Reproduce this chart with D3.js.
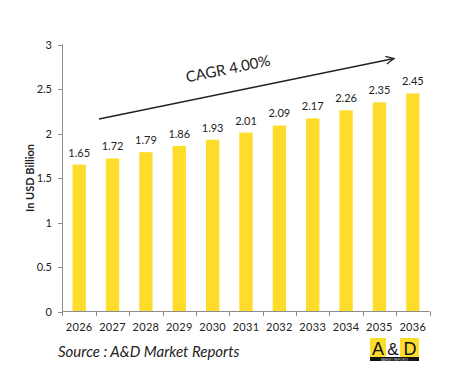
<!DOCTYPE html>
<html><head><meta charset="utf-8">
<script src="https://cdn.jsdelivr.net/npm/d3@7"></script>
<style>body{margin:0;background:#fff}</style>
</head><body>
<svg id="c" width="452" height="382"></svg>
<script>
const years = ["2026","2027","2028","2029","2030","2031","2032","2033","2034","2035","2036"];
const values = [1.65,1.72,1.79,1.86,1.93,2.01,2.09,2.17,2.26,2.35,2.45];
const yTicks = [0,0.5,1,1.5,2,2.5,3];
const yTickLabels = ["0","0.5","1","1.5","2","2.5","3"];
const cagrText = "CAGR 4.00%";
const sourceText = "Source : A&D Market Reports";
const yTitle = "In USD Billion";

const font = "Lato, 'Open Sans', sans-serif";
const svg = d3.select("#c");
const x = d3.scaleBand().domain(years).range([62.5, 429.5]).paddingInner(0.6).paddingOuter(0.3);
const xb = d3.scaleBand().domain(years).range([62.5, 429.5]);
const y = d3.scaleLinear().domain([0,3]).range([311.5, 44.5]);

// bars
svg.selectAll("rect.bar").data(values).enter().append("rect")
  .attr("x",(d,i)=>x(years[i])).attr("width",x.bandwidth())
  .attr("y",d=>y(d)).attr("height",d=>y(0)-y(d)).attr("fill","#FDDC2C");

// y axis
const g = svg.append("g");
g.append("line").attr("x1",62.5).attr("x2",62.5).attr("y1",y(3)).attr("y2",y(0)).attr("stroke","#8c8c8c");
g.selectAll("line.yt").data(yTicks).enter().append("line")
  .attr("x1",58).attr("x2",62.5).attr("y1",d=>Math.round(y(d))+0.5).attr("y2",d=>Math.round(y(d))+0.5).attr("stroke","#8c8c8c");
g.selectAll("text.yl").data(yTicks).enter().append("text")
  .attr("x",52).attr("y",d=>y(d)+4).attr("text-anchor","end")
  .attr("font-family",font).attr("font-size",11).attr("fill","#222")
  .text((d,i)=>yTickLabels[i]);

// x axis
g.append("line").attr("x1",62.5).attr("x2",429.5).attr("y1",y(0)).attr("y2",y(0)).attr("stroke","#8c8c8c");
const bounds = years.map(d=>xb(d)).concat([xb.range()[1]]);
g.selectAll("line.xt").data(bounds).enter().append("line")
  .attr("x1",d=>Math.round(d)+0.5).attr("x2",d=>Math.round(d)+0.5).attr("y1",y(0)).attr("y2",y(0)+4.5).attr("stroke","#8c8c8c");
g.selectAll("text.xl").data(years).enter().append("text")
  .attr("x",d=>xb(d)+xb.bandwidth()/2).attr("y",331).attr("text-anchor","middle")
  .attr("font-family",font).attr("font-size",11).attr("letter-spacing",0.3).attr("fill","#222").text(d=>d);

// value labels
svg.selectAll("text.v").data(values).enter().append("text")
  .attr("x",(d,i)=>x(years[i])+x.bandwidth()/2).attr("y",d=>y(d)-8)
  .attr("text-anchor","middle").attr("font-family",font).attr("font-size",11).attr("fill","#222")
  .text(d=>d.toFixed(2));

// y title
svg.append("text").attr("transform","translate(34,178) rotate(-90)")
  .attr("text-anchor","middle").attr("font-family",font).attr("font-size",11).attr("font-weight","bold")
  .attr("fill","#222").text(yTitle);

// CAGR arrow
const x1=99, y1=119, x2=394, y2=58.5;
svg.append("line").attr("x1",x1).attr("y1",y1).attr("x2",x2).attr("y2",y2).attr("stroke","#222").attr("stroke-width",1.3);
const ang = Math.atan2(y2-y1,x2-x1);
const hl=9, ha=0.45;
svg.append("path").attr("d",`M${x2-hl*Math.cos(ang-ha)},${y2-hl*Math.sin(ang-ha)}L${x2},${y2}L${x2-hl*Math.cos(ang+ha)},${y2-hl*Math.sin(ang+ha)}`)
  .attr("fill","none").attr("stroke","#222").attr("stroke-width",1.3);
svg.append("text").attr("transform",`translate(229,74) rotate(${ang*180/Math.PI})`)
  .attr("text-anchor","middle").attr("font-family",font).attr("font-size",15).attr("fill","#222").text(cagrText);

// source
svg.append("text").attr("x",58).attr("y",357).attr("font-family",font).attr("font-size",15)
  .attr("font-style","italic").attr("fill","#222").text(sourceText);

// logo
const lg = svg.append("g");
lg.append("rect").attr("x",370).attr("y",338).attr("width",49).attr("height",20).attr("fill","#FDDC2C");
lg.append("rect").attr("x",386).attr("y",338).attr("width",14).attr("height",20).attr("fill","#fff");
lg.append("rect").attr("x",370).attr("y",357).attr("width",49).attr("height",4).attr("fill","#111");
lg.append("text").attr("x",378).attr("y",355).attr("text-anchor","middle").attr("font-family","'Liberation Sans',sans-serif").attr("font-size",18).attr("fill","#111").text("A");
lg.append("text").attr("x",393).attr("y",355).attr("text-anchor","middle").attr("font-family","'Liberation Sans',sans-serif").attr("font-size",17).attr("fill","#111").text("&");
lg.append("text").attr("x",410).attr("y",355).attr("text-anchor","middle").attr("font-family","'Liberation Sans',sans-serif").attr("font-size",18).attr("fill","#111").text("D");
lg.append("text").attr("x",394.5).attr("y",360.5).attr("text-anchor","middle").attr("font-family","'Liberation Sans',sans-serif").attr("font-size",3).attr("fill","#ccc").text("MARKET REPORTS");
</script>
</body></html>
